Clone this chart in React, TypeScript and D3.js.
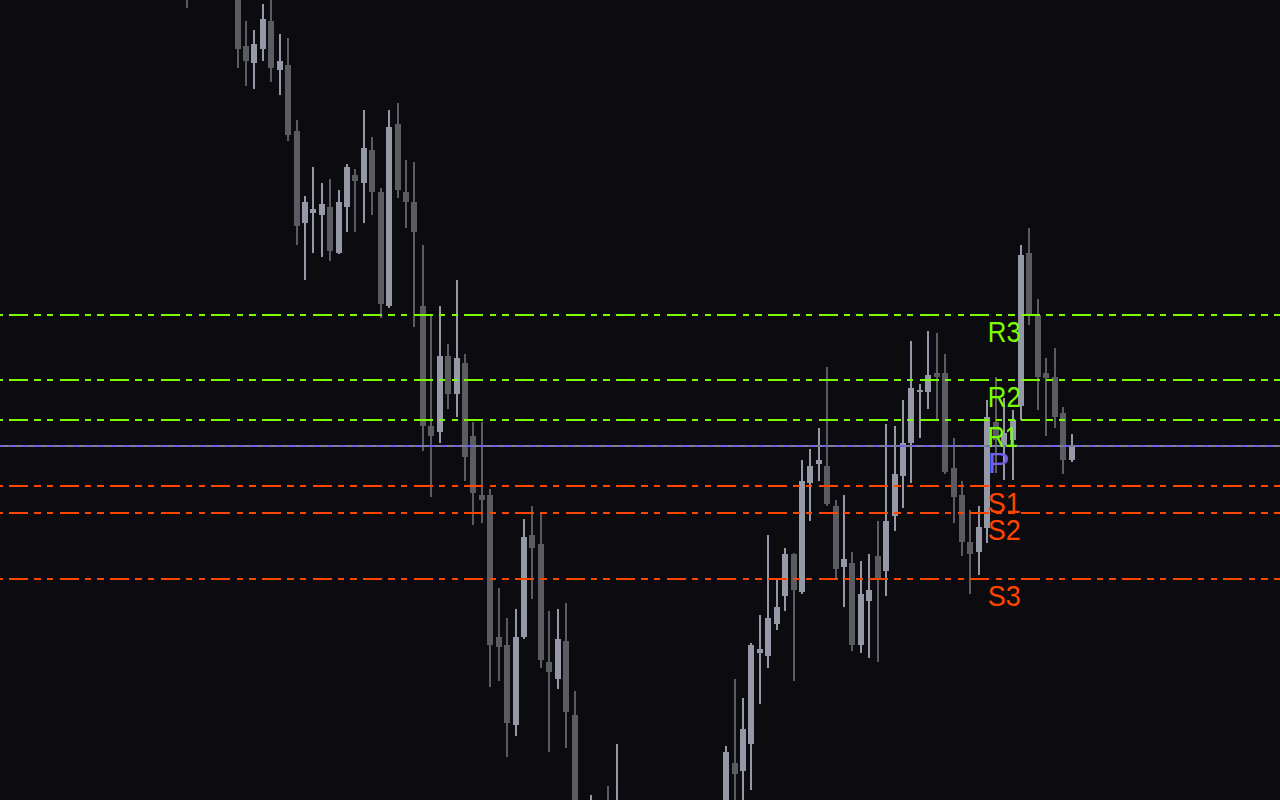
import React from 'react';
import * as d3 from 'd3';

// ---- data (price values) ----
const barIndex = [0, 6, 7, 8, 9, 10, 11, 12, 13, 14, 15, 16, 17, 18, 19, 20, 21, 22, 23, 24, 25, 26, 27, 28, 29, 30,
  31, 32, 33, 34, 35, 36, 37, 38, 39, 40, 41, 42, 43, 44, 45, 46, 48, 50, 51,
  64, 65, 66, 67, 68, 69, 70, 71, 72, 73, 74, 75, 76, 77, 78, 79, 80, 81, 82, 83, 84, 85, 86, 87, 88, 89, 90,
  91, 92, 93, 94, 95, 96, 97, 98, 99, 100, 101, 102, 103, 104, 105];

const opens = [1.1820, 1.1810, 1.1754, 1.1737, 1.1751, 1.1779, 1.1730, 1.1735, 1.1669, 1.1577, 1.1587, 1.1585, 1.1593, 1.1547, 1.1593, 1.1625, 1.1617, 1.1650, 1.1608, 1.1494, 1.1676, 1.1608, 1.1598, 1.1494, 1.1374, 1.1368,
  1.1444, 1.1406, 1.1437, 1.1364, 1.1305, 1.1305, 1.1163, 1.1155, 1.1075, 1.1163, 1.1265, 1.1256, 1.1138, 1.1121, 1.1159, 1.1085, 1.0940, 1.0990, 1.0960,
  1.0970, 1.1037, 1.1029, 1.1056, 1.1147, 1.1144, 1.1176, 1.1204, 1.1246, 1.1208, 1.1317, 1.1336, 1.1334, 1.1294, 1.1233, 1.1237, 1.1155, 1.1199, 1.1244, 1.1229, 1.1284, 1.1324, 1.1357, 1.1408, 1.1408, 1.1427, 1.1427,
  1.1332, 1.1305, 1.1258, 1.1248, 1.1272, 1.1378, 1.1353, 1.1360, 1.1394, 1.1547, 1.1485, 1.1427, 1.1423, 1.1387, 1.1340];

const highs = [1.1840, 1.1830, 1.1779, 1.1770, 1.1796, 1.1802, 1.1766, 1.1762, 1.1680, 1.1604, 1.1633, 1.1617, 1.1621, 1.1610, 1.1636, 1.1631, 1.1690, 1.1663, 1.1612, 1.1690, 1.1697, 1.1640, 1.1638, 1.1555, 1.1485, 1.1494,
  1.1456, 1.1520, 1.1446, 1.1378, 1.1378, 1.1311, 1.1212, 1.1182, 1.1191, 1.1281, 1.1294, 1.1287, 1.1189, 1.1191, 1.1197, 1.1109, 1.1005, 1.1014, 1.1056,
  1.1054, 1.1121, 1.1102, 1.1157, 1.1185, 1.1265, 1.1221, 1.1252, 1.1247, 1.1340, 1.1351, 1.1372, 1.1433, 1.1300, 1.1305, 1.1248, 1.1239, 1.1246, 1.1279, 1.1376, 1.1374, 1.1400, 1.1459, 1.1416, 1.1469, 1.1467, 1.1446,
  1.1362, 1.1319, 1.1290, 1.1294, 1.1400, 1.1423, 1.1402, 1.1390, 1.1555, 1.1572, 1.1501, 1.1442, 1.1452, 1.1393, 1.1366];

const lows = [1.1792, 1.1732, 1.1714, 1.1711, 1.1739, 1.1718, 1.1705, 1.1659, 1.1555, 1.1520, 1.1547, 1.1543, 1.1539, 1.1546, 1.1568, 1.1568, 1.1577, 1.1585, 1.1482, 1.1492, 1.1602, 1.1572, 1.1473, 1.1349, 1.1303, 1.1357,
  1.1391, 1.1383, 1.1319, 1.1275, 1.1277, 1.1113, 1.1119, 1.1043, 1.1064, 1.1161, 1.1201, 1.1132, 1.1048, 1.1111, 1.1052, 1.0950, 1.0930, 1.0930, 1.0940,
  1.0950, 1.0980, 1.0990, 1.1010, 1.1096, 1.1132, 1.1170, 1.1189, 1.1119, 1.1206, 1.1279, 1.1319, 1.1294, 1.1222, 1.1193, 1.1149, 1.1147, 1.1142, 1.1138, 1.1204, 1.1269, 1.1292, 1.1317, 1.1362, 1.1391, 1.1380, 1.1326,
  1.1277, 1.1244, 1.1206, 1.1225, 1.1257, 1.1327, 1.1320, 1.1320, 1.1380, 1.1475, 1.1390, 1.1364, 1.1372, 1.1326, 1.1338];

const closes = [1.1805, 1.1751, 1.1739, 1.1756, 1.1781, 1.1732, 1.1739, 1.1665, 1.1574, 1.1598, 1.1591, 1.1596, 1.1549, 1.1598, 1.1633, 1.1619, 1.1652, 1.1608, 1.1496, 1.1673, 1.1610, 1.1598, 1.1568, 1.1374, 1.1364, 1.1444,
  1.1406, 1.1442, 1.1343, 1.1307, 1.1300, 1.1155, 1.1153, 1.1077, 1.1163, 1.1263, 1.1252, 1.1140, 1.1128, 1.1161, 1.1088, 1.0970, 1.0980, 1.0950, 1.0995,
  1.1048, 1.1026, 1.1071, 1.1155, 1.1151, 1.1182, 1.1193, 1.1246, 1.1210, 1.1319, 1.1334, 1.1340, 1.1296, 1.1231, 1.1241, 1.1155, 1.1206, 1.1210, 1.1222, 1.1279, 1.1326, 1.1357, 1.1412, 1.1410, 1.1425, 1.1423, 1.1328,
  1.1303, 1.1258, 1.1246, 1.1273, 1.1383, 1.1360, 1.1367, 1.1380, 1.1545, 1.1486, 1.1423, 1.1422, 1.1383, 1.1340, 1.1353];

const levelNames = ['R3', 'R2', 'R1', 'P', 'S1', 'S2', 'S3'];
const levelValues = [1.1485, 1.1420, 1.1380, 1.1354, 1.1314, 1.1287, 1.1221];
const labelBar = 95;

// ---- layout / styles ----
const W = 1280;
const H = 800;
const BG = '#0b0b10';
const UP = '#9598a6';
const DOWN = '#5b5c62';
const GREEN = '#7cfc00';
const RED = '#ff4500';
const PURPLE = '#7060e8';
const PIVOT_GRAY = '#7d808e';

const xScale = d3.scaleLinear().domain([0, 105]).range([187, 187 + 105 * 8.424]);
const yScale = d3.scaleLinear().domain([1.1, 1.18]).range([H, 0]);

export default function App() {
  const candles = barIndex.map((b, k) => ({
    b,
    o: opens[k],
    h: highs[k],
    l: lows[k],
    c: closes[k],
  }));

  return (
    <div style={{ position: 'fixed', left: 0, top: 0, width: W, height: H, background: BG }}>
      <svg width={W} height={H} style={{ display: 'block' }}>
        <rect x={0} y={0} width={W} height={H} fill={BG} />
        <g shapeRendering="crispEdges">
          {candles.map((d) => {
            const cx = Math.round(xScale(d.b));
            const up = d.c >= d.o;
            const col = up ? UP : DOWN;
            const yH = Math.round(yScale(d.h));
            const yL = Math.round(yScale(d.l));
            const yTop = Math.round(yScale(Math.max(d.o, d.c)));
            const yBot = Math.round(yScale(Math.min(d.o, d.c)));
            return (
              <g key={d.b}>
                <rect x={cx - 1} y={yH} width={2} height={Math.max(1, yL - yH)} fill={col} />
                <rect x={cx - 3} y={yTop} width={6} height={Math.max(2, yBot - yTop)} fill={col} />
              </g>
            );
          })}
        </g>
        <g shapeRendering="crispEdges">
          {levelNames.map((name, k) => {
            const y = Math.round(yScale(levelValues[k]));
            if (name === 'P') {
              return (
                <g key={name}>
                  <line x1={0} x2={W} y1={y} y2={y} stroke={PIVOT_GRAY} strokeWidth={2} />
                  <line x1={0} x2={W} y1={y} y2={y} stroke={PURPLE} strokeWidth={2}
                    strokeDasharray="6.5,6.2" strokeDashoffset={3.7} />
                </g>
              );
            }
            const col = name.startsWith('R') ? GREEN : RED;
            return (
              <line key={name} x1={0} x2={W} y1={y} y2={y} stroke={col} strokeWidth={2}
                strokeDasharray="19,6.2,6.3,6.3,6.3,6.5" strokeDashoffset={41.6} />
            );
          })}
        </g>
        <g>
          {levelNames.map((name, k) => {
            const y = yScale(levelValues[k]);
            const col = name === 'P' ? PURPLE : name.startsWith('R') ? GREEN : RED;
            const len = name === 'P' ? 22 : name === 'R1' ? 30 : 33;
            return (
              <text key={name} x={xScale(labelBar) + 0.5} y={y + 26.5} fill={col}
                fontFamily="'Liberation Sans', Arial, sans-serif" fontSize={29}
                textLength={len} lengthAdjust="spacingAndGlyphs">
                {name}
              </text>
            );
          })}
        </g>
      </svg>
    </div>
  );
}
